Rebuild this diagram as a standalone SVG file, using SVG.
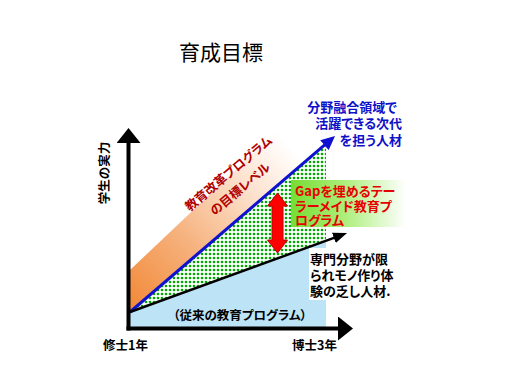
<svg xmlns="http://www.w3.org/2000/svg" width="506" height="380" viewBox="0 0 506 380">
<style>
text{font-family:"Noto Sans CJK JP","Noto Sans",sans-serif;font-weight:bold;font-feature-settings:"palt";}
.title{font-size:21px;font-weight:normal;fill:#000;}
.lbl{font-size:12.5px;fill:#000;}
.blue{font-size:13px;fill:#1010c8;}
.dred{font-size:12.5px;fill:#b00000;}
.red{font-size:13px;fill:#e80000;}
.blk{font-size:13px;fill:#000;}
.axis{stroke:#000;stroke-width:4;fill:none;}
</style>
<defs>
<linearGradient id="gOrange" gradientUnits="userSpaceOnUse" x1="130" y1="300" x2="300" y2="140">
<stop offset="0" stop-color="#f28c3c"/>
<stop offset="0.35" stop-color="#f6b27e"/>
<stop offset="0.65" stop-color="#fcdcc4"/>
<stop offset="0.95" stop-color="#ffffff"/>
</linearGradient>
<linearGradient id="gGreen" x1="0" y1="0" x2="1" y2="0">
<stop offset="0" stop-color="#77dd33"/>
<stop offset="0.45" stop-color="#aaee77"/>
<stop offset="1" stop-color="#ffffff"/>
</linearGradient>
<pattern id="dots" patternUnits="userSpaceOnUse" width="4" height="4">
<rect width="4" height="4" fill="#ffffff"/>
<circle cx="2" cy="2" r="1.35" fill="#00a800"/>
</pattern>
<marker id="mAxis" markerUnits="userSpaceOnUse" markerWidth="15" markerHeight="24" refX="1" refY="12" orient="auto">
<path d="M0,0 L15,12 L0,24 z" fill="#000"/>
</marker>
<marker id="mBlue" markerUnits="userSpaceOnUse" markerWidth="14" markerHeight="13" refX="3" refY="6.5" orient="auto">
<path d="M0,0 L14,6.5 L0,13 z" fill="#1010d0"/>
</marker>
<marker id="mBlack" markerUnits="userSpaceOnUse" markerWidth="14" markerHeight="11" refX="3" refY="5.5" orient="auto">
<path d="M0,0 L14,5.5 L0,11 z" fill="#000"/>
</marker>
</defs>
<rect width="506" height="380" fill="#ffffff"/>
<text class="title" x="221" y="60" text-anchor="middle">育成目標</text>
<g id="areas">
<polygon id="band" points="130,313 130,270 320,90 336,136" fill="url(#gOrange)"/>
<polygon id="gap-area" points="130,312 326,143.5 326,240.7" fill="url(#dots)"/>
<polygon id="conventional-area" points="130,312 326,240.7 326,327 130,327" fill="#bde3f7"/>
<rect id="text-bg" x="309" y="248" width="96" height="52" fill="#ffffff"/>
<rect id="gap-box" x="291" y="180" width="115" height="47" fill="url(#gGreen)"/>
</g>
<g id="connectors">
<polygon id="gap-arrow" points="277.5,193 287.5,206 283,206 283,240 287.5,240 277.5,253 267.5,240 272,240 272,206 267.5,206" fill="#ff0000" stroke="#c00000" stroke-width="1"/>
<line id="target-line" x1="130" y1="312" x2="326.7" y2="143.2" stroke="#1010d0" stroke-width="3" marker-end="url(#mBlue)"/>
<line id="current-line" x1="130" y1="312" x2="336.7" y2="236.8" stroke="#000" stroke-width="2.5" marker-end="url(#mBlack)"/>
<line id="y-axis" class="axis" x1="128.5" y1="330.5" x2="128.5" y2="142" marker-end="url(#mAxis)"/>
<line id="x-axis" class="axis" x1="126.5" y1="328.5" x2="339" y2="328.5" marker-end="url(#mAxis)"/>
</g>
<g id="y-label"><text class="lbl" transform="translate(104,173) rotate(-90)" y="4.5" text-anchor="middle">学生の実力</text></g>
<g id="x-start"><text class="lbl" x="103" y="350">修士1年</text></g>
<g id="x-end"><text class="lbl" x="292" y="350">博士3年</text></g>
<g id="target-label">
<text class="blue" x="397" y="112" text-anchor="end">分野融合領域で</text>
<text class="blue" x="402" y="128" text-anchor="end">活躍できる次代</text>
<text class="blue" x="402" y="145" text-anchor="end">を担う人材</text>
</g>
<g id="band-label">
<text class="dred" transform="translate(228.5,173.5) rotate(-40)" y="4.5" text-anchor="middle">教育改革プログラム</text>
<text class="dred" transform="translate(240,189) rotate(-40)" y="4.5" text-anchor="middle">の目標レベル</text>
</g>
<g id="gap-label">
<text class="red" x="295" y="196">Gapを埋めるテー</text>
<text class="red" x="295" y="211">ラーメイド教育プ</text>
<text class="red" x="295" y="225">ログラム</text>
</g>
<g id="current-label">
<text class="blk" x="310" y="264">専門分野が限</text>
<text class="blk" x="310" y="280">られモノ作り体</text>
<text class="blk" x="310" y="296">験の乏し人材.</text>
</g>
<g id="conventional-label"><text class="lbl" x="240" y="320" text-anchor="middle">（従来の教育プログラム）</text></g>
</svg>
